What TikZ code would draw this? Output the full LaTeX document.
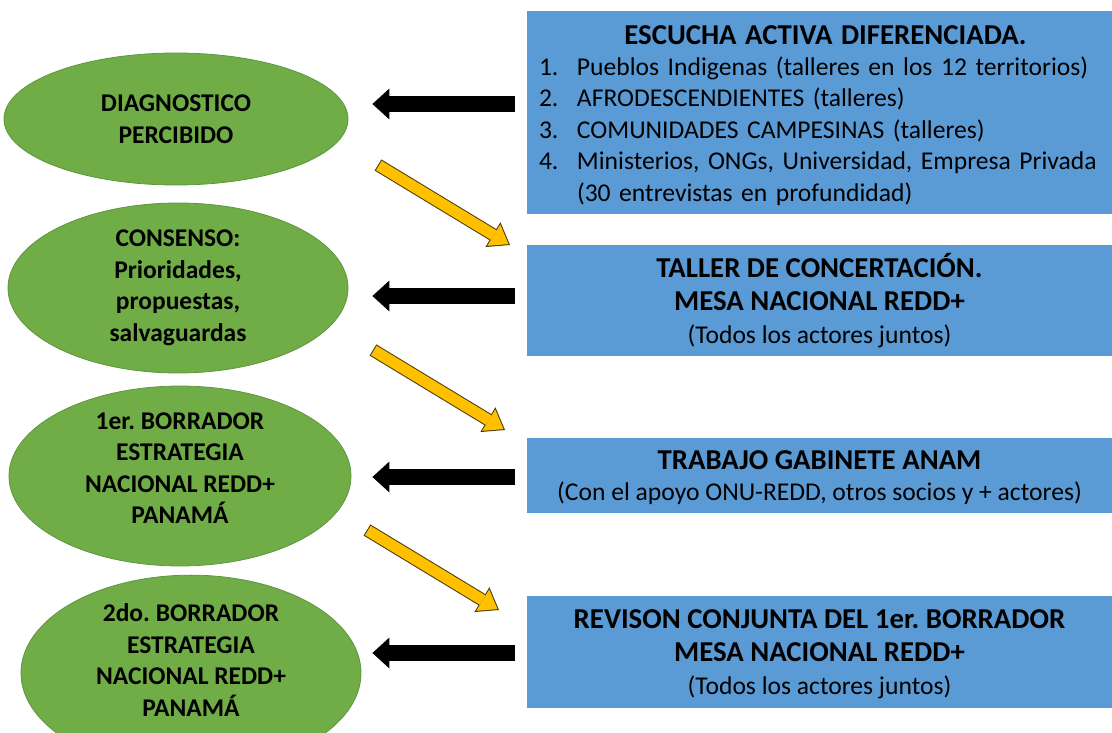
\documentclass[tikz,border=0pt]{standalone}
\usepackage{fontspec}
\setmainfont{Carlito}
\usetikzlibrary{shapes.geometric,arrows.meta}
\definecolor{leaf}{HTML}{70AD47}
\definecolor{leafline}{HTML}{5E9640}
\definecolor{sky}{HTML}{5B9BD5}
\definecolor{amber}{HTML}{FFC000}
\definecolor{amberline}{HTML}{4A3A08}
\newcommand\heading{\bfseries\fontsize{28.8}{33}\selectfont}

\begin{document}
\frenchspacing
\begin{tikzpicture}[x=1pt,y=-1pt,
   stage/.style={ellipse, fill=leaf, draw=leafline, line width=0.8pt, inner sep=0pt,
      align=center, font=\bfseries\fontsize{25.5}{31.5}\selectfont},
   task/.style={rectangle, fill=sky, inner sep=0pt, minimum width=585pt,
      align=center, font=\fontsize{25.6}{33}\selectfont},
   back/.style={line width=16pt, -{Triangle[width=31pt,length=17pt,line width=0pt]}},
   amberedge/.style={draw=amberline, line width=13pt,
      -{Triangle[width=29pt,length=20pt,line width=0pt]}},
   amberfill/.style={draw=amber, line width=11pt, shorten <=1pt, shorten >=1.7pt,
      -{Triangle[width=25pt,length=17.3pt,line width=0pt]}}]
   \useasboundingbox (0,0) rectangle (1112,733);
   % left column
   \node[stage, minimum width=344pt, minimum height=132pt] (e1) at (176,119) {DIAGNOSTICO\\PERCIBIDO};
   \node[stage, minimum width=340pt, minimum height=170pt] (e2) at (178,288) {CONSENSO:\\Prioridades,\\propuestas,\\salvaguardas};
   \node[stage, minimum width=342pt, minimum height=170pt, text depth=16pt] (e3) at (180,476) {1er. BORRADOR\\ESTRATEGIA\\NACIONAL REDD+\\PANAMÁ};
   \node[stage, minimum width=340pt, minimum height=170pt, text depth=26pt] (e4) at (191,673) {2do. BORRADOR\\ESTRATEGIA\\NACIONAL REDD+\\PANAMÁ};
   % right column
   \node[task, minimum height=203pt, text width=561pt, align=left,
      font=\fontsize{25.6}{31.5}\selectfont] (b1) at (819.5,112.5) {%
      {\centering\heading\hspace*{12pt}\raisebox{-6pt}[\height][\depth]{ESCUCHA ACTIVA DIFERENCIADA.}\par}\vspace{5pt}
      \raggedright
      \mbox{\makebox[38pt][l]{1.}Pueblos Indigenas (talleres en los 12 territorios)}\par
      \mbox{\makebox[38pt][l]{2.}AFRODESCENDIENTES (talleres)}\par
      \mbox{\makebox[38pt][l]{3.}COMUNIDADES CAMPESINAS (talleres)}\par
      \mbox{\makebox[38pt][l]{4.}Ministerios, ONGs, Universidad, Empresa Privada}\par
      \mbox{\hspace*{38pt}(30 entrevistas en profundidad)}};
   \node[task, minimum height=111pt] (b2) at (819.5,300.5) {{\heading TALLER DE CONCERTACIÓN.}\\{\heading MESA NACIONAL REDD+}\\(Todos los actores juntos)};
   \node[task, minimum height=75pt, text depth=0pt, font=\fontsize{25.6}{31}\selectfont] (b3) at (819.5,475.5) {{\heading TRABAJO GABINETE ANAM}\\(Con el apoyo ONU-REDD, otros socios y + actores)};
   \node[task, minimum height=112pt, text depth=-3pt] (b4) at (819.5,652) {{\heading REVISON CONJUNTA DEL 1er. BORRADOR}\\{\heading MESA NACIONAL REDD+}\\(Todos los actores juntos)};
   % black arrows
   \draw[back, shorten >=24pt] ([xshift=-12pt,yshift=8.5pt]b1.west) coordinate (s1) -- (s1 -| e1.east);
   \draw[back, shorten >=24pt] ([xshift=-12pt,yshift=4.5pt]b2.west) coordinate (s2) -- (s2 -| e2.east);
   \draw[back, shorten >=21pt] ([xshift=-12pt,yshift=-1.5pt]b3.west) coordinate (s3) -- (s3 -| e3.east);
   \draw[back, shorten >=11pt] ([xshift=-12pt,yshift=-1pt]b4.west) coordinate (s4) -- (s4 -| e4.east);
   % yellow arrows
   \coordinate (y1) at (378,165);
   \coordinate (z1) at (510,245);
   \coordinate (y2) at (373,350);
   \coordinate (z2) at (505,430);
   \coordinate (y3) at (367,530);
   \coordinate (z3) at (499,610);
   \draw[amberedge] (y1) -- (z1);
   \draw[amberfill] (y1) -- (z1);
   \draw[amberedge] (y2) -- (z2);
   \draw[amberfill] (y2) -- (z2);
   \draw[amberedge] (y3) -- (z3);
   \draw[amberfill] (y3) -- (z3);
\end{tikzpicture}
\end{document}
